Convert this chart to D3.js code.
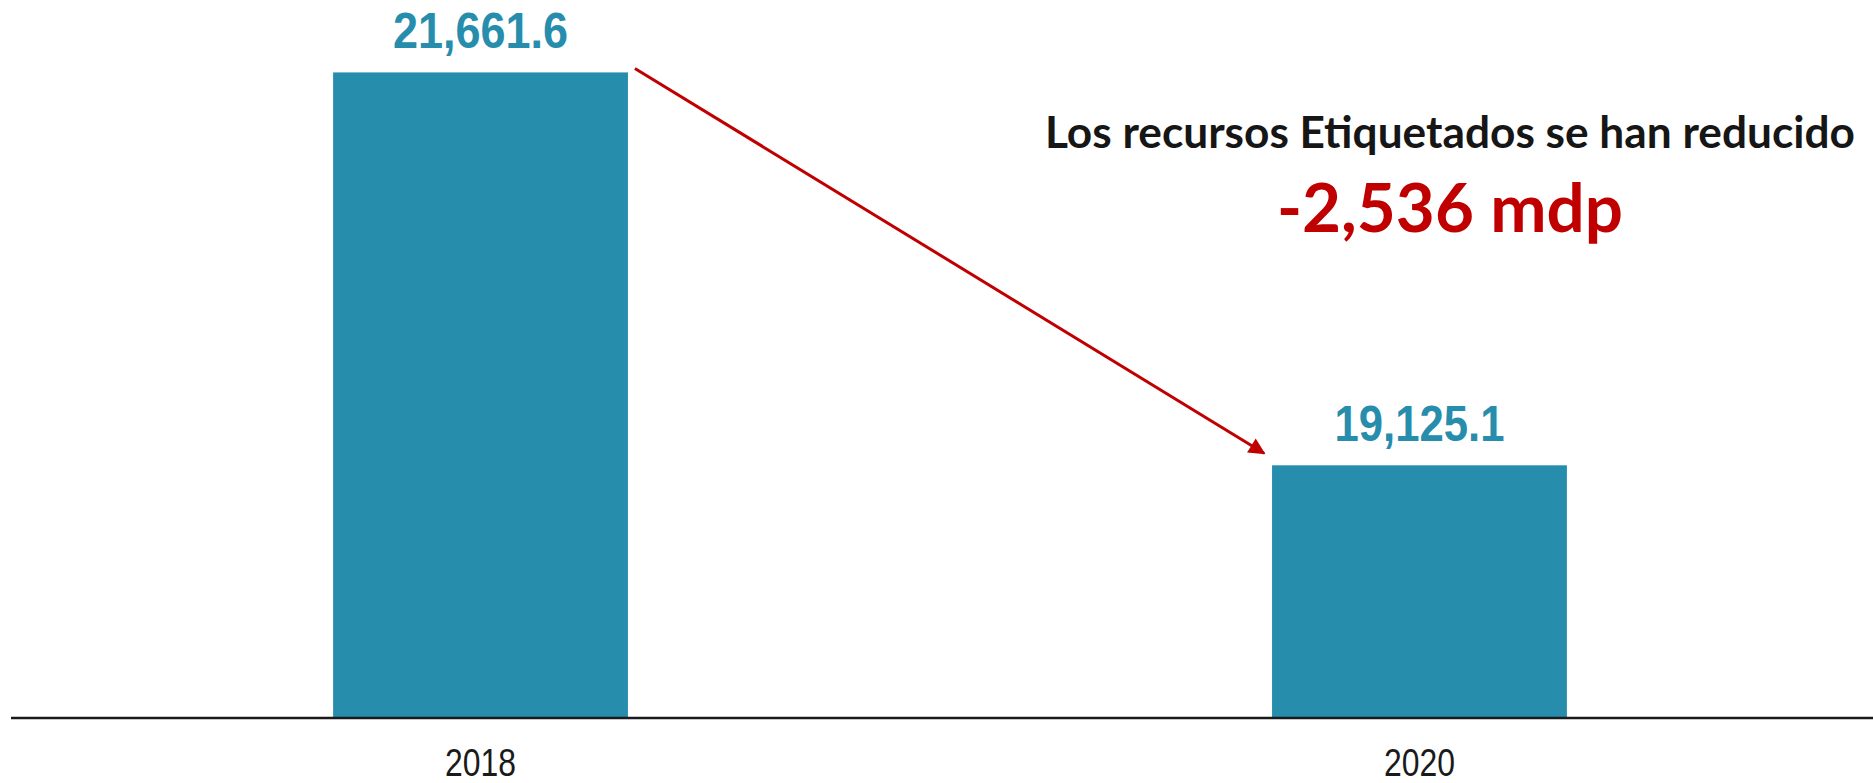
<!DOCTYPE html>
<html>
<head>
<meta charset="utf-8">
<script src="https://cdn.jsdelivr.net/npm/d3@7"></script>
<style>
html,body{margin:0;padding:0;background:#fff;}
svg{display:block;}
</style>
</head>
<body>
<svg id="chart" width="1873" height="783"></svg>
<script>
const years = ["2018", "2020"];
const values = [21661.6, 19125.1];
const valueLabels = ["21,661.6", "19,125.1"];
const noteLine1 = "Los recursos Etiquetados se han reducido";
const noteLine2 = "-2,536 mdp";

const W = 1873, H = 783;
const svg = d3.select("#chart");
const barColor = "#268dad";
const red = "#c00000";
const narrow = "'Liberation Sans Narrow','Arial Narrow','Liberation Sans',Arial,sans-serif";

const x = d3.scaleBand().domain(years).range([27, 1873]).paddingInner(0.686).paddingOuter(0.326);
const y = d3.scaleLinear().domain([17500, 22000]).range([717, 20]);

// bars
svg.selectAll("rect.bar").data(years).join("rect")
  .attr("class","bar")
  .attr("x", d => x(d))
  .attr("width", x.bandwidth())
  .attr("y", (d,i) => y(values[i]))
  .attr("height", (d,i) => y(17500) - y(values[i]))
  .attr("fill", barColor);

// value labels
svg.selectAll("text.val").data(years).join("text")
  .attr("class","val")
  .attr("x", d => x(d) + x.bandwidth()/2)
  .attr("y", (d,i) => y(values[i]) - 24)
  .attr("text-anchor","middle")
  .attr("font-family", narrow)
  .attr("font-weight","bold")
  .attr("font-size", 50)
  .attr("textLength", (d,i) => i === 0 ? 175 : 170)
  .attr("lengthAdjust", "spacingAndGlyphs")
  .attr("fill", barColor)
  .text((d,i) => valueLabels[i]);

// x axis
const xAxis = d3.axisBottom(x).tickSize(0).tickPadding(0);
const gx = svg.append("g").attr("transform", `translate(0,${y(17500)+1})`).call(xAxis);
gx.select(".domain").remove();
gx.append("line").attr("x1", 11).attr("x2", W).attr("y1", 0).attr("y2", 0)
  .attr("stroke", "#1a1a1a").attr("stroke-width", 2.5);
gx.selectAll(".tick text")
  .attr("dy", null).attr("y", 58)
  .attr("font-family", narrow)
  .attr("font-size", 39)
  .attr("textLength", 71)
  .attr("lengthAdjust", "spacingAndGlyphs")
  .attr("fill", "#1a1a1a");

// arrow
const defs = svg.append("defs");
defs.append("marker").attr("id","ah")
  .attr("viewBox","0 0 10 10").attr("refX",9).attr("refY",5)
  .attr("markerWidth",6).attr("markerHeight",5.5).attr("markerUnits","strokeWidth")
  .attr("orient","auto")
  .append("path").attr("d","M0,0 L10,5 L0,10 Z").attr("fill", red);

const x1 = x(years[0]) + x.bandwidth() + 7, y1 = y(values[0]) - 4;
const x2 = x(years[1]) - 8, y2 = y(values[1]) - 12;
svg.append("line")
  .attr("x1", x1).attr("y1", y1).attr("x2", x2).attr("y2", y2)
  .attr("stroke", red).attr("stroke-width", 3)
  .attr("marker-end","url(#ah)");

// annotation
const t1 = svg.append("text")
  .attr("x", 1450).attr("y", 148)
  .attr("text-anchor","middle")
  .attr("font-family","Lato, 'Open Sans', sans-serif")
  .attr("font-weight","bold")
  .attr("font-size", 40)
  .attr("fill","#161616")
  .text(noteLine1);
const w1 = t1.node().getComputedTextLength();
t1.attr("font-size", 40 * 810 / w1);

const t2 = svg.append("text")
  .attr("x", 1450).attr("y", 232)
  .attr("text-anchor","middle")
  .attr("font-family","Lato, 'Open Sans', sans-serif")
  .attr("font-weight","bold")
  .attr("font-size", 66)
  .attr("fill", red)
  .text(noteLine2);
const w2 = t2.node().getComputedTextLength();
t2.attr("font-size", 66 * 346 / w2);
</script>
</body>
</html>
